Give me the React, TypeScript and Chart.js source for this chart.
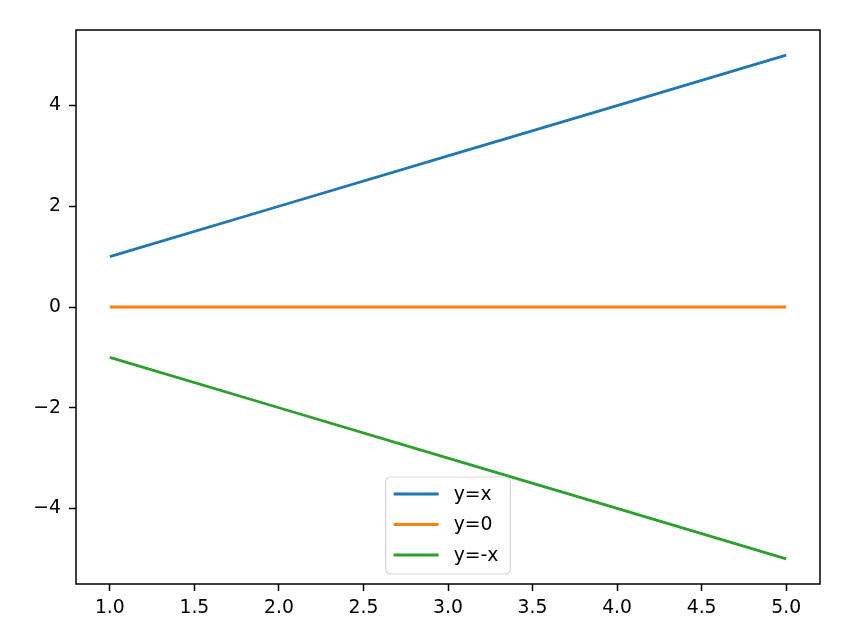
import React, { useEffect, useRef } from "react";
import { Chart, registerables } from "chart.js";

Chart.register(...registerables);

const xValues = [1, 2, 3, 4, 5];
const seriesLabels = ["y=x", "y=0", "y=-x"];
const seriesYX = [1, 2, 3, 4, 5];
const seriesY0 = [0, 0, 0, 0, 0];
const seriesYNegX = [-1, -2, -3, -4, -5];
const seriesColors = ["#1f77b4", "#ff7f0e", "#2ca02c"];
const xTickValues = [1.0, 1.5, 2.0, 2.5, 3.0, 3.5, 4.0, 4.5, 5.0];
const yTickValues = [-4, -2, 0, 2, 4];

const FONT = "DejaVu Sans";
const FONT_SIZE = 18.8;

const framePlugin = {
  id: "frameAndLegend",
  afterDraw(chart: any) {
    const { ctx, chartArea } = chart;
    const { left, right, top, bottom } = chartArea;
    ctx.save();
    // frame
    ctx.strokeStyle = "#000";
    ctx.lineWidth = 1.5;
    ctx.strokeRect(left, top, right - left, bottom - top);

    // legend
    ctx.font = `${FONT_SIZE}px "${FONT}"`;
    const labels = chart.data.datasets.map((d: any) => d.label);
    const maxW = Math.max(...labels.map((l: string) => ctx.measureText(l).width));
    const padL = 8;
    const handle = 45;
    const gap = 15;
    const padR = 12;
    const w = padL + handle + gap + maxW + padR;
    const rowH = 30.5;
    const h = 97;
    const cx = (left + right) / 2;
    const bx = cx - w / 2;
    const by = bottom - 10 - h;
    const r = 5;
    ctx.beginPath();
    ctx.moveTo(bx + r, by);
    ctx.lineTo(bx + w - r, by);
    ctx.arcTo(bx + w, by, bx + w, by + r, r);
    ctx.lineTo(bx + w, by + h - r);
    ctx.arcTo(bx + w, by + h, bx + w - r, by + h, r);
    ctx.lineTo(bx + r, by + h);
    ctx.arcTo(bx, by + h, bx, by + h - r, r);
    ctx.lineTo(bx, by + r);
    ctx.arcTo(bx, by, bx + r, by, r);
    ctx.closePath();
    ctx.fillStyle = "rgba(255,255,255,0.8)";
    ctx.fill();
    ctx.strokeStyle = "rgba(204,204,204,0.8)";
    ctx.lineWidth = 1.2;
    ctx.stroke();

    chart.data.datasets.forEach((d: any, i: number) => {
      const yy = by + 17 + i * rowH;
      ctx.beginPath();
      ctx.strokeStyle = d.borderColor;
      ctx.lineWidth = 2.8;
      ctx.moveTo(bx + padL, yy);
      ctx.lineTo(bx + padL + handle, yy);
      ctx.stroke();
      ctx.fillStyle = "#000";
      ctx.textBaseline = "middle";
      ctx.textAlign = "left";
      ctx.fillText(d.label, bx + padL + handle + gap, yy + 1);
    });
    ctx.restore();
  },
};

export default function App() {
  const ref = useRef<HTMLCanvasElement | null>(null);
  useEffect(() => {
    document.body.style.margin = "0";
    const seriesData = [seriesYX, seriesY0, seriesYNegX];
    const chart = new Chart(ref.current as HTMLCanvasElement, {
      type: "line",
      data: {
        datasets: seriesLabels.map((label, i) => ({
          label,
          data: xValues.map((x, j) => ({ x, y: seriesData[i][j] })),
          borderColor: seriesColors[i],
          backgroundColor: seriesColors[i],
          borderWidth: 2.8,
          pointRadius: 0,
          tension: 0,
          fill: false,
        })),
      },
      options: {
        responsive: false,
        animation: false,
        devicePixelRatio: 1,
        layout: { padding: { top: 30, right: 47, left: 0, bottom: 0 } },
        plugins: { legend: { display: false }, tooltip: { enabled: false } },
        scales: {
          x: {
            type: "linear",
            min: 0.8,
            max: 5.2,
            afterBuildTicks: (axis: any) => {
              axis.ticks = xTickValues.map((v) => ({ value: v }));
            },
            afterFit: (scale: any) => {
              scale.height = 50;
            },
            grid: {
              display: true,
              drawOnChartArea: false,
              drawTicks: true,
              tickLength: 7,
              tickColor: "#000",
              tickWidth: 1.5,
            },
            border: { display: false },
            ticks: {
              color: "#000",
              font: { family: FONT, size: FONT_SIZE },
              padding: 6,
              maxRotation: 0,
              autoSkip: false,
              callback: (v: any) => Number(v).toFixed(1),
            },
          },
          y: {
            type: "linear",
            min: -5.5,
            max: 5.5,
            afterBuildTicks: (axis: any) => {
              axis.ticks = yTickValues.map((v) => ({ value: v }));
            },
            afterFit: (scale: any) => {
              scale.width = 76;
            },
            grid: {
              display: true,
              drawOnChartArea: false,
              drawTicks: true,
              tickLength: 7,
              tickColor: "#000",
              tickWidth: 1.5,
            },
            border: { display: false },
            ticks: {
              color: "#000",
              font: { family: FONT, size: FONT_SIZE },
              padding: 8,
              autoSkip: false,
              callback: (v: any) => {
                const n = Number(v);
                return n < 0 ? "\u2212" + Math.abs(n) : String(n);
              },
            },
          },
        },
      },
      plugins: [framePlugin],
    });
    return () => chart.destroy();
  }, []);
  return <canvas ref={ref} width={867} height={634} style={{ display: "block" }} />;
}
